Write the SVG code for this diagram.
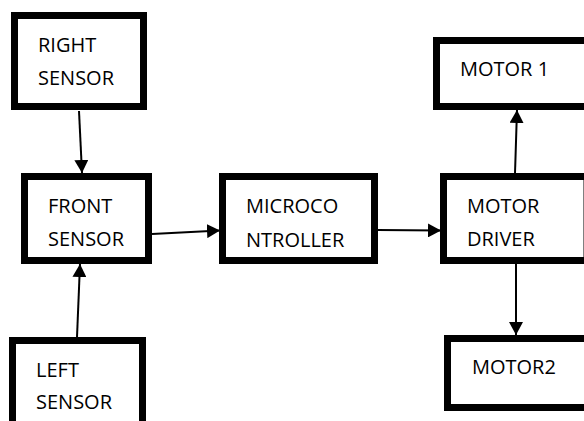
<svg xmlns="http://www.w3.org/2000/svg" width="584" height="421" viewBox="0 0 584 421">
<style>
.box{fill:#fff;stroke:#000;stroke-width:7}
.lbl{font-family:"Open Sans","Liberation Sans",sans-serif;font-size:20px;fill:#000}
.con{stroke:#000;stroke-width:2;fill:none}
</style>
<defs>
<marker id="ah" markerUnits="userSpaceOnUse" markerWidth="13" markerHeight="14" refX="13" refY="7" orient="auto">
<path d="M0,0 L13,7 L0,14 z" fill="#000"/>
</marker>
</defs>
<rect width="584" height="421" fill="#fff"/>
<g id="right-sensor">
<rect class="box" x="14.5" y="15.5" width="129" height="91"/>
<text class="lbl" x="38" y="52">RIGHT</text>
<text class="lbl" x="38" y="85">SENSOR</text>
</g>
<g id="front-sensor">
<rect class="box" x="24.5" y="176.5" width="124" height="84"/>
<text class="lbl" x="48" y="213">FRONT</text>
<text class="lbl" x="48" y="246">SENSOR</text>
</g>
<g id="left-sensor">
<rect class="box" x="12.5" y="340.5" width="130" height="100"/>
<text class="lbl" x="36" y="377">LEFT</text>
<text class="lbl" x="36" y="409">SENSOR</text>
</g>
<g id="microcontroller">
<rect class="box" x="222.5" y="176.5" width="152" height="84"/>
<text class="lbl" x="246" y="213">MICROCO</text>
<text class="lbl" x="246" y="247">NTROLLER</text>
</g>
<g id="motor-driver">
<rect class="box" x="443.5" y="176.5" width="143.5" height="84"/>
<text class="lbl" x="467" y="213">MOTOR</text>
<text class="lbl" x="467" y="246">DRIVER</text>
</g>
<g id="motor1">
<rect class="box" x="436.5" y="40.5" width="200" height="66"/>
<text class="lbl" x="460" y="76">MOTOR 1</text>
</g>
<g id="motor2">
<rect class="box" x="447.5" y="338.5" width="200" height="69"/>
<text class="lbl" x="472" y="374">MOTOR2</text>
</g>
<g id="connectors">
<line class="con" x1="79" y1="111" x2="82" y2="173" marker-end="url(#ah)"/>
<line class="con" x1="77" y1="337" x2="80" y2="264" marker-end="url(#ah)"/>
<line class="con" x1="152" y1="234" x2="220" y2="230.5" marker-end="url(#ah)"/>
<line class="con" x1="378" y1="230" x2="441" y2="230.5" marker-end="url(#ah)"/>
<line class="con" x1="515" y1="173" x2="517" y2="110" marker-end="url(#ah)"/>
<line class="con" x1="516" y1="264" x2="516" y2="335" marker-end="url(#ah)"/>
</g>
</svg>
